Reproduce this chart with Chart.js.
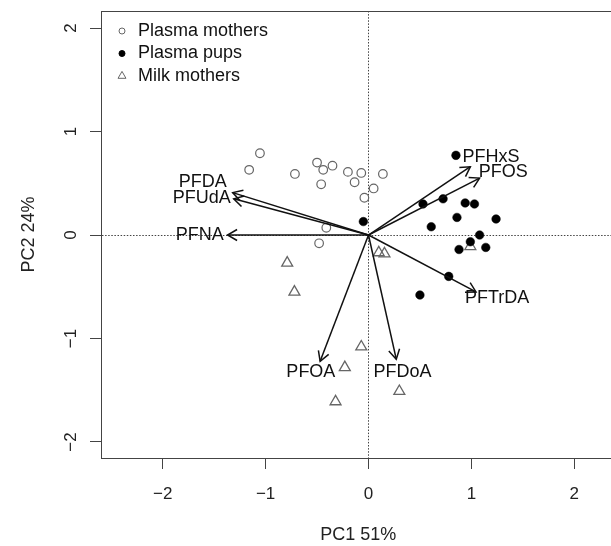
<!DOCTYPE html>
<html>
<head>
<meta charset="utf-8">
<script src="https://cdn.jsdelivr.net/npm/chart.js@4.4.1/dist/chart.umd.min.js"></script>
<style>
html, body { margin: 0; padding: 0; background: #fff; overflow: hidden; }
canvas { display: block; max-width: none !important; }
</style>
</head>
<body>
<!-- wider than the window: the plot box runs past the right edge, like the cropped original -->
<canvas id="chart" width="623" height="546"></canvas>
<script>
// scores
const motherX = [-1.055, -1.16, -0.715, -0.50, -0.44, -0.35, -0.46, -0.20, -0.07, -0.135, 0.14, 0.05, -0.04, -0.41, -0.48];
const motherY = [0.79, 0.63, 0.59, 0.70, 0.63, 0.67, 0.49, 0.61, 0.60, 0.51, 0.59, 0.45, 0.36, 0.07, -0.08];
const pupX = [0.85, 0.53, 0.725, 0.94, 1.03, 0.86, 1.24, 0.61, 1.08, 0.99, 0.88, 1.14, 0.78, 0.50, -0.05];
const pupY = [0.77, 0.30, 0.35, 0.31, 0.30, 0.17, 0.155, 0.08, 0.0, -0.065, -0.14, -0.12, -0.40, -0.58, 0.13];
const milkX = [-0.79, -0.72, -0.07, -0.23, -0.32, 0.30, 0.10, 0.155, 0.99];
const milkY = [-0.27, -0.55, -1.08, -1.28, -1.61, -1.51, -0.17, -0.18, -0.11];

// loadings
const loadingNames = ['PFDA', 'PFUdA', 'PFNA', 'PFHxS', 'PFOS', 'PFTrDA', 'PFOA', 'PFDoA'];
const loadingX = [-1.32, -1.31, -1.37, 0.99, 1.08, 1.045, -0.47, 0.27];
const loadingY = [0.41, 0.35, 0.0, 0.66, 0.55, -0.55, -1.22, -1.20];
const labelX = [-1.61, -1.62, -1.64, 1.19, 1.31, 1.25, -0.56, 0.33];
const labelY = [0.51, 0.36, 0.0, 0.75, 0.61, -0.61, -1.32, -1.32];

const xTicks = [-2, -1, 0, 1, 2];
const yTicks = [-2, -1, 0, 1, 2];

const FONT = '"Liberation Sans", Arial, sans-serif';
const fmt = v => (v < 0 ? '\u2212' + Math.abs(v) : String(v));
const pts = (xs, ys) => xs.map((x, i) => ({x: x, y: ys[i]}));

const datasets = [
  {label: 'Plasma mothers', data: pts(motherX, motherY), pointStyle: 'circle', pointRadius: 4.3,
   borderWidth: 1.2, borderColor: '#666', backgroundColor: 'rgba(0,0,0,0)'},
  {label: 'Plasma pups', data: pts(pupX, pupY), pointStyle: 'circle', pointRadius: 4.3,
   borderWidth: 0.5, borderColor: '#000', backgroundColor: '#000'},
  {label: 'Milk mothers', data: pts(milkX, milkY), pointStyle: 'triangle', pointRadius: 6.3,
   borderWidth: 1.3, borderColor: '#666', backgroundColor: 'rgba(0,0,0,0)'}
];
loadingNames.forEach((n, i) => {
  datasets.push({label: n, arrow: true, order: -1, showLine: true,
    data: [{x: 0, y: 0}, {x: loadingX[i], y: loadingY[i]}],
    borderColor: '#111', borderWidth: 1.5, pointRadius: 0});
});

const biplotExtras = {
  id: 'biplotExtras',
  afterDatasetsDraw(chart) {
    const {ctx, chartArea: a, scales: {x, y}} = chart;
    ctx.save();
    // box
    ctx.strokeStyle = '#444';
    ctx.lineWidth = 1;
    ctx.strokeRect(a.left + 0.5, a.top + 0.5, a.right - a.left, a.bottom - a.top);
    // arrow heads
    ctx.strokeStyle = '#111';
    ctx.lineWidth = 1.5;
    chart.data.datasets.forEach((ds, i) => {
      if (!ds.arrow) return;
      const m = chart.getDatasetMeta(i);
      const p0 = m.data[0], p1 = m.data[1];
      const ang = Math.atan2(p1.y - p0.y, p1.x - p0.x);
      const L = 11, s = Math.PI / 6;
      ctx.beginPath();
      ctx.moveTo(p1.x - L * Math.cos(ang - s), p1.y - L * Math.sin(ang - s));
      ctx.lineTo(p1.x, p1.y);
      ctx.lineTo(p1.x - L * Math.cos(ang + s), p1.y - L * Math.sin(ang + s));
      ctx.stroke();
    });
    // loading labels
    ctx.fillStyle = '#111';
    ctx.font = '18px ' + FONT;
    ctx.textAlign = 'center';
    ctx.textBaseline = 'middle';
    loadingNames.forEach((n, i) => {
      ctx.fillText(n, x.getPixelForValue(labelX[i]), y.getPixelForValue(labelY[i]));
    });
    // legend (no box)
    ctx.textAlign = 'left';
    const rows = [31, 53.5, 76];
    chart.data.datasets.slice(0, 3).forEach((ds, i) => {
      const cx = 122, cy = rows[i];
      ctx.beginPath();
      if (ds.pointStyle === 'triangle') {
        const r = 4.6;
        ctx.moveTo(cx, cy - r);
        ctx.lineTo(cx + r * 0.866, cy + r * 0.5);
        ctx.lineTo(cx - r * 0.866, cy + r * 0.5);
        ctx.closePath();
      } else {
        ctx.arc(cx, cy, 3, 0, Math.PI * 2);
      }
      ctx.lineWidth = 1;
      ctx.strokeStyle = ds.borderColor;
      ctx.fillStyle = ds.backgroundColor;
      ctx.fill();
      ctx.stroke();
      ctx.fillStyle = '#111';
      ctx.fillText(ds.label, 138, cy);
    });
    ctx.restore();
  }
};

const zeroGrid = c => (c.tick && c.tick.value === 0 ? '#444' : 'rgba(0,0,0,0)');

new Chart(document.getElementById('chart').getContext('2d'), {
  type: 'scatter',
  data: {datasets: datasets},
  options: {
    responsive: false,
    animation: false,
    events: [],
    devicePixelRatio: 1,
    layout: {padding: {top: 11, right: 2, left: 0, bottom: 0}},
    plugins: {legend: {display: false}, tooltip: {enabled: false}},
    scales: {
      x: {
        type: 'linear', min: -2.6, max: 2.4,
        afterBuildTicks: s => { s.ticks = xTicks.map(v => ({value: v})); },
        afterFit: s => { s.height = 88; s.paddingLeft = 0; s.paddingRight = 0; },
        grid: {color: zeroGrid, lineWidth: 1, tickLength: 11, tickColor: '#444', tickWidth: 1},
        border: {color: '#444', width: 1, dash: [1.5, 1.6]},
        ticks: {font: {size: 17, family: FONT}, color: '#222', padding: 15, maxRotation: 0, autoSkip: false,
                callback: v => fmt(v)},
        title: {display: true, text: 'PC1 51%', color: '#222', font: {size: 18, family: FONT},
                padding: {top: 0, bottom: 0}}
      },
      y: {
        type: 'linear', min: -2.155, max: 2.165,
        afterBuildTicks: s => { s.ticks = yTicks.map(v => ({value: v})); },
        afterFit: s => { s.width = 101; s.paddingTop = 0; s.paddingBottom = 0; },
        grid: {color: zeroGrid, lineWidth: 1, tickLength: 11, tickColor: '#444', tickWidth: 1},
        border: {color: '#444', width: 1, dash: [1.5, 1.6]},
        ticks: {font: {size: 17, family: FONT}, color: '#222', padding: 9, minRotation: 90, maxRotation: 90,
                crossAlign: 'center', autoSkip: false, callback: v => fmt(v)},
        title: {display: true, text: 'PC2 24%', color: '#222', font: {size: 18, family: FONT},
                padding: {top: 18, bottom: 0}}
      }
    }
  },
  plugins: [biplotExtras]
});
</script>
</body>
</html>
